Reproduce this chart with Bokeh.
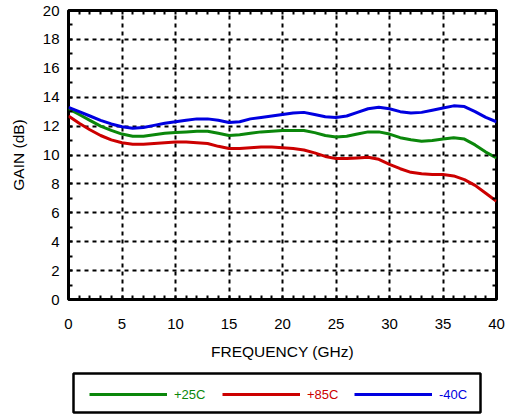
from bokeh.plotting import figure
from bokeh.models import Legend, LegendItem, LinearAxis, FixedTicker, Range1d, BoxAnnotation
from bokeh.layouts import column
from bokeh.embed import file_html
from bokeh.resources import INLINE

freq = list(range(41))
gain_25c = [13.2, 12.8, 12.4, 12.0, 11.7, 11.45, 11.3, 11.3, 11.4, 11.5, 11.55,
            11.6, 11.65, 11.65, 11.5, 11.35, 11.4, 11.5, 11.6, 11.65, 11.7,
            11.7, 11.7, 11.55, 11.35, 11.25, 11.3, 11.45, 11.6, 11.6, 11.45,
            11.2, 11.05, 10.95, 11.0, 11.1, 11.2, 11.1, 10.7, 10.2, 9.8]
gain_85c = [12.7, 12.2, 11.75, 11.35, 11.05, 10.85, 10.75, 10.75, 10.8, 10.85, 10.9,
            10.9, 10.85, 10.8, 10.6, 10.45, 10.45, 10.5, 10.55, 10.55, 10.5,
            10.45, 10.35, 10.15, 9.9, 9.75, 9.75, 9.8, 9.85, 9.7, 9.35,
            9.05, 8.8, 8.7, 8.65, 8.65, 8.55, 8.3, 7.9, 7.35, 6.8]
gain_m40c = [13.3, 13.0, 12.7, 12.4, 12.15, 11.95, 11.85, 11.9, 12.05, 12.2, 12.3,
             12.4, 12.5, 12.5, 12.4, 12.25, 12.3, 12.5, 12.6, 12.7, 12.8,
             12.9, 12.95, 12.8, 12.65, 12.6, 12.7, 12.95, 13.2, 13.3, 13.2,
             13.0, 12.9, 12.95, 13.1, 13.25, 13.4, 13.35, 13.0, 12.6, 12.3]
x_ticks = [0, 5, 10, 15, 20, 25, 30, 35, 40]
x_minor = list(range(41))
y_ticks = [0, 2, 4, 6, 8, 10, 12, 14, 16, 18, 20]
y_minor = list(range(21))
labels = ["+25C", "+85C", "-40C"]
colors = ["#0b870b", "#cc0000", "#0000e0"]

FONT = "Liberation Sans"

p = figure(width=505, height=365, x_range=Range1d(0, 40), y_range=Range1d(0, 20),
           output_backend="svg", toolbar_location=None,
           min_border_left=68, min_border_right=9, min_border_top=10, min_border_bottom=66)
p.outline_line_color = "black"
p.outline_line_width = 3
p.outline_line_alpha = 1.0

p.xaxis.ticker = FixedTicker(ticks=x_ticks, minor_ticks=x_minor)
p.yaxis.ticker = FixedTicker(ticks=y_ticks, minor_ticks=y_minor)
for ax in (p.xaxis[0], p.yaxis[0]):
    ax.axis_line_color = None
    ax.major_tick_in = 0
    ax.major_tick_out = 0
    ax.minor_tick_in = 4
    ax.minor_tick_out = 0
    ax.minor_tick_line_width = 2
    ax.minor_tick_line_color = "black"
    ax.major_label_text_font = FONT
    ax.major_label_text_font_size = "15px"
    ax.major_label_text_color = "black"
    ax.axis_label_text_font = FONT
    ax.axis_label_text_font_size = "15.5px"
    ax.axis_label_text_font_style = "normal"
    ax.axis_label_text_color = "black"
p.xaxis.axis_label = "FREQUENCY (GHz)"
p.yaxis.axis_label = "GAIN (dB)"
p.xaxis.major_label_standoff = 19
p.xaxis.axis_label_standoff = 11
p.yaxis.major_label_standoff = 9
p.yaxis.axis_label_standoff = 13

for side, tk in (("above", FixedTicker(ticks=x_ticks, minor_ticks=x_minor)),
                 ("right", FixedTicker(ticks=y_ticks, minor_ticks=y_minor))):
    ax = LinearAxis(ticker=tk)
    ax.axis_line_color = None
    ax.major_tick_in = 0
    ax.major_tick_out = 0
    ax.minor_tick_in = 4
    ax.minor_tick_out = 0
    ax.minor_tick_line_width = 2
    ax.minor_tick_line_color = "black"
    ax.major_label_text_color = None
    ax.major_label_text_font_size = "1px"
    ax.major_label_standoff = 0
    p.add_layout(ax, side)

p.xgrid.ticker = FixedTicker(ticks=x_ticks)
p.ygrid.ticker = FixedTicker(ticks=y_ticks)
for g in (p.xgrid[0], p.ygrid[0]):
    g.grid_line_color = "black"
    g.grid_line_width = 2
    g.grid_line_dash = "4 4"
    g.grid_line_alpha = 1.0

series = [gain_25c, gain_85c, gain_m40c]
for ys, c in zip(series, colors):
    p.line(freq, ys, line_color=c, line_width=3)

# legend strip: second canvas (frame aligned with the chart), box drawn as annotation
p2 = figure(width=505, height=50, x_range=Range1d(0, 40), y_range=Range1d(0, 20),
            output_backend="svg", toolbar_location=None,
            min_border_left=68, min_border_right=9, min_border_top=5, min_border_bottom=0)
p2.axis.visible = False
p2.grid.visible = False
p2.outline_line_color = None

p2.add_layout(BoxAnnotation(left=5, right=412, bottom=3, top=42,
                            left_units="screen", right_units="screen",
                            bottom_units="screen", top_units="screen",
                            fill_alpha=0, line_color="black", line_width=2.5,
                            line_alpha=1.0))

xpos = [21, 154, 286]
for lab, c, ys, xp in zip(labels, colors, series, xpos):
    r = p2.line(freq, ys, line_color=c, line_width=3, visible=False)
    lg = Legend(items=[LegendItem(label=lab, renderers=[r])], orientation="horizontal",
                location=(xp, 11), border_line_color=None, background_fill_alpha=0,
                inactive_fill_alpha=0, click_policy="none",
                padding=0, margin=0, glyph_width=78, glyph_height=20, label_height=20,
                label_standoff=7, label_text_font=FONT, label_text_font_size="13px",
                label_text_color=c)
    p2.add_layout(lg, "center")

lay = column(p, p2, spacing=0)
open("out.html", "w").write(file_html(lay, INLINE))
